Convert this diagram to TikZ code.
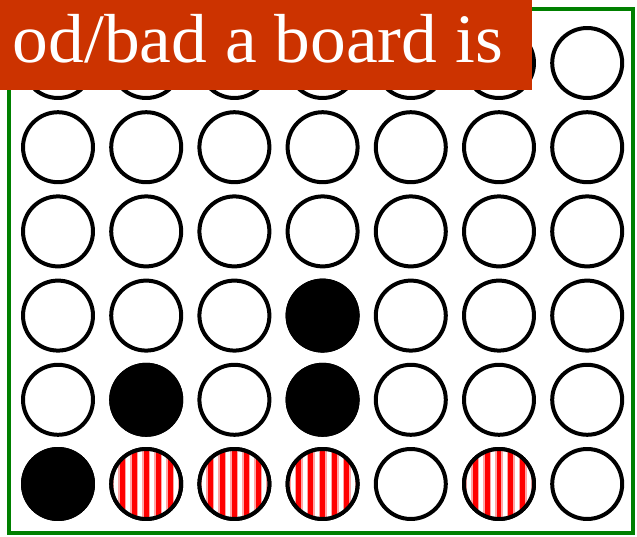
\documentclass[tikz,border=0pt]{standalone}
\usepackage{fontspec}
\setmainfont{Liberation Serif}
\newfontfamily\bannerfont[FakeStretch=1.03]{Liberation Serif}
\usetikzlibrary{positioning}

\definecolor{bannerred}{RGB}{204,51,0}
\definecolor{boardgreen}{RGB}{0,128,0}
\definecolor{stripered}{RGB}{255,0,0}

\begin{document}
\begin{tikzpicture}[
  x=0.02cm, y=-0.02cm,
  every node/.style={inner sep=0pt, outer sep=0pt},
  boardframe/.style={draw=boardgreen, line width=0.08cm,
                     minimum width=12.48cm, minimum height=10.48cm},
  hole/.style={circle, draw=black, line width=0.08cm, fill=white,
               minimum size=1.4cm},
  blackpiece/.style={hole, fill=black},
  redpiece/.style={hole, path picture={
      \foreach \k in {-3,...,3} {
        \fill[stripered!35] ([xshift=\k*0.24cm]path picture bounding box.center)
          ++(-0.08cm,-0.8cm) rectangle ++(0.16cm,1.6cm);
        \fill[stripered] ([xshift=\k*0.24cm]path picture bounding box.center)
          ++(-0.05cm,-0.8cm) rectangle ++(0.1cm,1.6cm);
      }
    }},
  banner/.style={fill=bannerred, text=white, anchor=north east,
                 font=\bannerfont\fontsize{39.5}{42}\selectfont,
                 inner xsep=0.58cm, inner ysep=0pt,
                 text height=1.26cm, text depth=0.54cm},
]
\useasboundingbox (0,0) rectangle (637,537);
\clip (0,0) rectangle (637,537);

% --- Board outline ---
\node[boardframe] (board) at (321,271) {};

% --- 7 x 6 grid of empty holes ---
\foreach \i in {1,...,7}
  \foreach \j in {1,...,6}
    \node[hole] (h-\i-\j) at ({58+88.2*(\i-1)},{63+84.2*(\j-1)}) {};

% --- Pieces played so far ---
\node[blackpiece] (b1) at (h-1-6) {};
\node[blackpiece] (b2) at (h-2-5) {};
\node[blackpiece] (b3) at (h-4-5) {};
\node[blackpiece] (b4) at (h-4-4) {};

\node[redpiece] (r1) at (h-2-6) {};
\node[redpiece] (r2) at (h-3-6) {};
\node[redpiece] (r3) at (h-4-6) {};
\node[redpiece] (r4) at (h-6-6) {};

% --- Title banner ---
\node[banner, minimum width=10.64cm, align=right] (title) at (532,0) {od/bad a board is};

\end{tikzpicture}
\end{document}
